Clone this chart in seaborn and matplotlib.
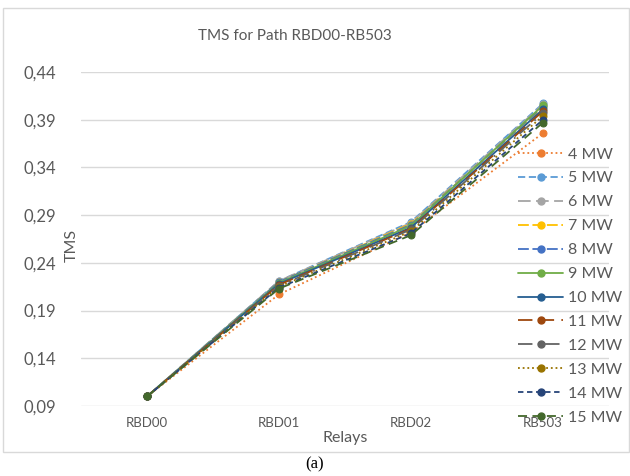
import pandas as pd
import matplotlib.pyplot as plt
import seaborn as sns
from matplotlib.lines import Line2D
from matplotlib.patches import Rectangle

# data
relays = ["RBD00", "RBD01", "RBD02", "RB503"]
loads = ["4 MW", "5 MW", "6 MW", "7 MW", "8 MW", "9 MW",
         "10 MW", "11 MW", "12 MW", "13 MW", "14 MW", "15 MW"]
rbd00 = [0.100] * 12
rbd01 = [0.207, 0.221, 0.221, 0.220, 0.220, 0.219, 0.218, 0.217, 0.216, 0.215, 0.214, 0.213]
rbd02 = [0.272, 0.283, 0.282, 0.281, 0.280, 0.279, 0.277, 0.276, 0.275, 0.273, 0.271, 0.269]
rb503 = [0.376, 0.407, 0.406, 0.403, 0.404, 0.405, 0.401, 0.399, 0.397, 0.394, 0.390, 0.387]
yticks = [0.09, 0.14, 0.19, 0.24, 0.29, 0.34, 0.39, 0.44]

colors = ["#ED7D31", "#5B9BD5", "#A5A5A5", "#FFC000", "#4472C4", "#70AD47",
          "#255E91", "#9E480E", "#636363", "#997300", "#264478", "#43682B"]
dash_list = [(1, 1.6), (4, 2), (7, 3), (6, 2), (6, 2), "",
             "", (8, 4), (8, 3, 1, 3), (1, 1.6), (3, 2), (5, 3)]

rows = []
for i, name in enumerate(loads):
    for relay, vals in zip(relays, [rbd00, rbd01, rbd02, rb503]):
        rows.append({"relay": relay, "tms": vals[i], "load": name})
df = pd.DataFrame(rows)

sns.set_style("white")
plt.rcParams["font.family"] = ["Lato", "DejaVu Sans"]

fig = plt.figure(figsize=(6.3, 4.76), dpi=100)
ax = fig.add_axes([81 / 630, 1 - 406 / 476, 528 / 630, 334 / 476])

palette = dict(zip(loads, colors))
dashes = dict(zip(loads, dash_list))
sns.lineplot(data=df, x="relay", y="tms", hue="load", style="load",
             palette=palette, dashes=dashes, markers={l: "o" for l in loads},
             sort=False, linewidth=1.3, markersize=5, legend=False, ax=ax)
for line in ax.lines:
    line.set_markeredgecolor(line.get_color())

ax.set_xlim(-0.5, 3.5)
ax.set_ylim(0.09, 0.44)
ax.set_yticks(yticks)
ax.set_yticklabels([f"{v:.2f}".replace(".", ",") for v in yticks])
ax.yaxis.grid(True, color="#D9D9D9", linewidth=1)
ax.set_axisbelow(True)
for s in ax.spines.values():
    s.set_visible(False)
ax.tick_params(axis="y", labelsize=12, colors="#595959", length=0, pad=18)
ax.tick_params(axis="x", labelsize=9.5, colors="#595959", length=0, pad=8)
ax.set_xlabel("")
ax.set_ylabel("")
ax.patch.set_alpha(0)

fig.text(295 / 630, 1 - 36 / 476, "TMS for Path RBD00-RB503", ha="center",
         va="center", fontsize=11, color="#595959")
fig.text(345 / 630, 1 - 438 / 476, "Relays", ha="center", va="center",
         fontsize=11.5, color="#595959")
fig.text(72 / 630, 1 - 245 / 476, "TMS", ha="center", va="center",
         rotation=90, fontsize=11.5, color="#595959")
fig.text(315 / 630, 1 - 464 / 476, "(a)", ha="center", va="center",
         fontsize=12, family="Liberation Serif", color="black")

fig.patches.append(Rectangle((3 / 630, 1 - 452 / 476), 626 / 630, 444 / 476,
                             transform=fig.transFigure, fill=False,
                             edgecolor="#D9D9D9", linewidth=1))

handles = []
for name, c, d in zip(loads, colors, dash_list):
    ls = "-" if d == "" else (0, d)
    handles.append(Line2D([], [], color=c, linestyle=ls, linewidth=1.3,
                          marker="o", markersize=5, markeredgecolor=c))
leg = fig.legend(handles, loads, loc="upper left",
                 bbox_to_anchor=(512 / 630, 1 - 141 / 476), frameon=False,
                 fontsize=11.5, labelcolor="#595959", handlelength=2.8,
                 handletextpad=0.3, labelspacing=0.61, borderaxespad=0)

fig.savefig("out.png", dpi=100)
